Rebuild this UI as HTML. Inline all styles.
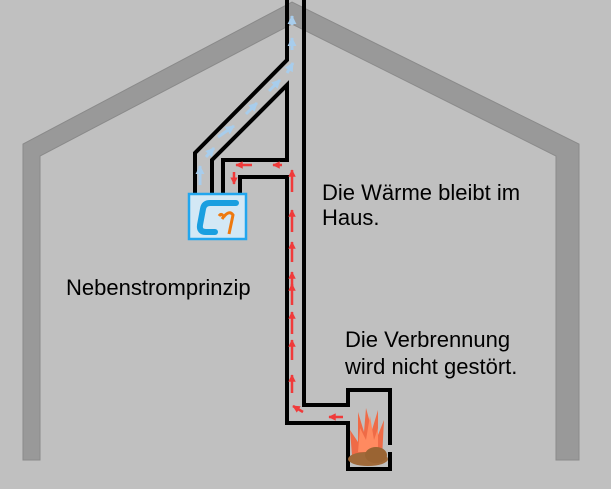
<!DOCTYPE html>
<html><head><meta charset="utf-8"><style>
html,body{margin:0;padding:0;background:#c0c0c0;}
svg{display:block}
text{font-family:"Liberation Sans",sans-serif;font-size:22px;fill:#000}
</style></head><body>
<svg width="611" height="489" viewBox="0 0 611 489" xmlns="http://www.w3.org/2000/svg">
<defs>
<marker id="r" viewBox="0 0 10 10" refX="9" refY="5" markerWidth="3" markerHeight="3" orient="auto"><path d="M0,0L10,5L0,10z" fill="#f03a3a"/></marker>
<marker id="b" viewBox="0 0 10 10" refX="9" refY="5" markerWidth="3" markerHeight="3" orient="auto"><path d="M0,0L10,5L0,10z" fill="#a8cdec"/></marker>
</defs>
<rect width="611" height="489" fill="#c0c0c0"/>
<path d="M23,460 L23,144 L292,2 L579,144 L579,460 L556,460 L556,156 L292,24 L40,156 L40,460 Z" fill="#999" stroke="#8a8a8a" stroke-width="1"/>
<g fill="none" stroke="#000" stroke-width="4" stroke-linejoin="miter">
<path d="M287,0 L287,60 L195,153 L195,193"/>
<path d="M212,193 L212,160 L287,85 L287,160 L223,160 L223,193"/>
<path d="M240,193 L240,177 L287,177 L287,423 L348,423 L348,469 L390,469 L390,452"/>
<path d="M304,0 L304,405 L348,405 L348,390 L390,390 L390,445"/>
</g>
<g stroke="#a8cdec" stroke-width="3" fill="none" marker-end="url(#b)">
<line x1="200" y1="185" x2="200" y2="166"/>
<line x1="206" y1="157" x2="214" y2="148"/>
<line x1="218" y1="137" x2="234" y2="126"/>
<line x1="246" y1="114" x2="257" y2="103"/>
<line x1="269" y1="91" x2="280" y2="80"/>
<line x1="287" y1="73" x2="293" y2="63"/>
<line x1="292" y1="50" x2="292" y2="38"/>
<line x1="292" y1="25" x2="292" y2="16"/>
</g>
<g stroke="#f03a3a" stroke-width="2.5" fill="none" marker-end="url(#r)">
<line x1="252" y1="165" x2="236" y2="165"/>
<line x1="282" y1="165" x2="273" y2="165"/>
<line x1="234" y1="172" x2="234" y2="184"/>
<line x1="292" y1="192" x2="292" y2="170"/>
<line x1="292" y1="232" x2="292" y2="210"/>
<line x1="292" y1="262" x2="292" y2="242"/>
<line x1="292" y1="288" x2="292" y2="272"/>
<line x1="292" y1="305" x2="292" y2="284"/>
<line x1="292" y1="334" x2="292" y2="312"/>
<line x1="292" y1="360" x2="292" y2="340"/>
<line x1="292" y1="393" x2="292" y2="375"/>
<line x1="303" y1="412" x2="293" y2="406"/>
<line x1="343" y1="417" x2="329" y2="417"/>
</g>
<g>
<path d="M352,455 L350,430 L358,442 L358,412 L364,432 L366,408 L372,430 L378,410 L378,435 L384,420 L382,458Z" fill="#f4623a" opacity="0.9"/>
<path d="M358,452 L360,428 L366,440 L370,416 L374,440 L378,428 L378,452Z" fill="#ff8a60"/>
<ellipse cx="368" cy="459" rx="20" ry="7" fill="#a06a3a"/>
<ellipse cx="376" cy="455" rx="11" ry="8" fill="#9a6433"/>
</g>
<rect x="189" y="194" width="57" height="45" fill="#d3e8f5" stroke="#22a6ee" stroke-width="2.5"/>
<path d="M236,203 L210,203 Q204,203 203,209 L200,225 Q199,232 206,232 L215,232" fill="none" stroke="#1a9fe0" stroke-width="6" stroke-linecap="round"/>
<path d="M219,216 Q222,212 224,218 M222,219 Q229,209 233,215 L229,234" fill="none" stroke="#ee7a10" stroke-width="3"/>
<text x="322" y="200">Die Wärme bleibt im</text>
<text x="322" y="225">Haus.</text>
<text x="66" y="295">Nebenstromprinzip</text>
<text x="345" y="347">Die Verbrennung</text>
<text x="345" y="374">wird nicht gestört.</text>
</svg>
</body></html>
